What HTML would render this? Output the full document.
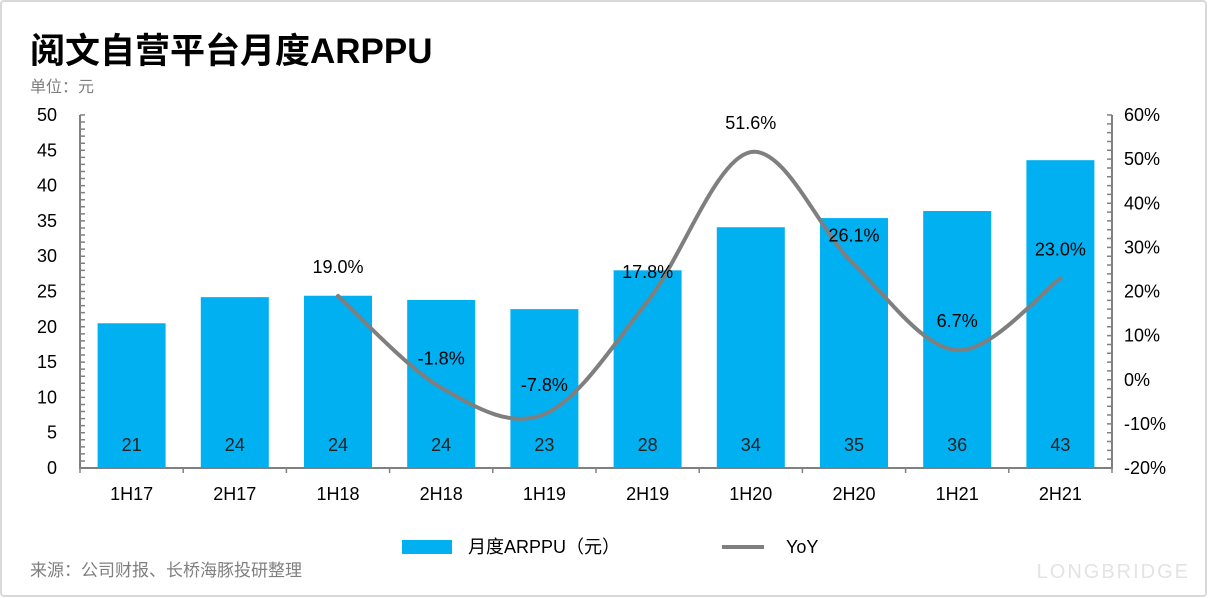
<!DOCTYPE html>
<html><head><meta charset="utf-8"><style>
body{margin:0;background:#fff}
#wrap{position:relative;width:1208px;height:598px;overflow:hidden;font-family:"Liberation Sans","Noto Sans CJK SC",sans-serif}
</style></head><body>
<div id="wrap">
<svg id="svg" width="1208" height="598">
<rect x="1" y="1" width="1205" height="595" rx="3" fill="#fff" stroke="#d9d9d9" stroke-width="2"/>
<text x="30" y="63" font-size="35" font-weight="bold" fill="#000" font-family="Liberation Sans,Noto Sans CJK SC,sans-serif">阅文自营平台月度ARPPU</text>
<text x="30" y="92" font-size="16" fill="#7f7f7f">单位：元</text>
<text x="30" y="576" font-size="17" fill="#7f7f7f">来源：公司财报、长桥海豚投研整理</text>
<text x="1190" y="578" font-size="20" fill="#e3e3e3" text-anchor="end" letter-spacing="2">LONGBRIDGE</text>
<g id="g"></g>
</svg>
</div>
<script>
const categories=["1H17","2H17","1H18","2H18","1H19","2H19","1H20","2H20","1H21","2H21"];
const arppu=[20.5,24.2,24.4,23.8,22.5,28.0,34.1,35.4,36.4,43.6];
const arppuLabels=["21","24","24","24","23","28","34","35","36","43"];
const yoy=[null,null,19.0,-1.8,-7.8,17.8,51.6,26.1,6.7,23.0];
const leftTicks=[0,5,10,15,20,25,30,35,40,45,50];
const rightTicks=[-20,-10,0,10,20,30,40,50,60];
const NS="http://www.w3.org/2000/svg";
const g=document.getElementById('g');
const X0=80,X1=1112,Y0=468,Y1=115;
const band=(X1-X0)/categories.length;
const xC=i=>X0+band*(i+0.5);
const yL=v=>Y0-(v/50)*(Y0-Y1);
const yR=v=>Y0-((v+20)/80)*(Y0-Y1);
function el(t,a,txt){const e=document.createElementNS(NS,t);for(const k in a)e.setAttribute(k,a[k]);if(txt!=null)e.textContent=txt;g.appendChild(e);return e;}
arppu.forEach((v,i)=>{
 const b=el('rect',{x:xC(i)-34,y:yL(v),width:68,height:Y0-yL(v),fill:'#00b0f0'});
 
 
 const t=el('text',{x:xC(i),y:451,'font-size':18,'text-anchor':'middle',fill:'#222'},arppuLabels[i]);
 
 
 const c=el('text',{x:xC(i),y:500,'font-size':18,'text-anchor':'middle',fill:'#000'},categories[i]);
 
 
});
let ax=el('path',{d:`M${X0} ${Y1}V${Y0}H${X1}V${Y1}`,stroke:'#808080','stroke-width':2,fill:'none'});


let tk='';
for(let v=0;v<=50;v++){tk+=`M${X0} ${yL(v)}h5`;}
for(let v=-20;v<=60;v+=2){tk+=`M${X1} ${yR(v)}h-5`;}
for(let i=0;i<=categories.length;i++){tk+=`M${X0+band*i} ${Y0}v5`;}
let tp=el('path',{d:tk,stroke:'#808080','stroke-width':1.5,fill:'none'});


leftTicks.forEach(v=>{const t=el('text',{x:57,y:yL(v)+6,'font-size':18,'text-anchor':'end',fill:'#000'},String(v));
 
 });
rightTicks.forEach(v=>{const t=el('text',{x:1124,y:yR(v)+6,'font-size':18,fill:'#000'},v+'%');
 
 });
const pts=[];yoy.forEach((v,i)=>{if(v!=null)pts.push([xC(i),yR(v),v]);});
let d=`M${pts[0][0]} ${pts[0][1]}`;
for(let i=0;i<pts.length-1;i++){
 const p0=pts[Math.max(0,i-1)],p1=pts[i],p2=pts[i+1],p3=pts[Math.min(pts.length-1,i+2)];
 const k=1/6;
 d+=` C${p1[0]+(p2[0]-p0[0])*k} ${p1[1]+(p2[1]-p0[1])*k} ${p2[0]-(p3[0]-p1[0])*k} ${p2[1]-(p3[1]-p1[1])*k} ${p2[0]} ${p2[1]}`;
}
const ln=el('path',{d:d,stroke:'#7f7f7f','stroke-width':4,fill:'none','stroke-linecap':'round'});


pts.forEach(p=>{const t=el('text',{x:p[0],y:p[1]-23,'font-size':18,'text-anchor':'middle',fill:'#000'},p[2].toFixed(1)+'%');
 
 });
let lr=el('rect',{x:402,y:540,width:50,height:14,fill:'#00b0f0'});


let lt=el('text',{x:468,y:553,'font-size':18,fill:'#000'},'月度ARPPU（元）');


let ll=el('line',{x1:722,y1:547,x2:764,y2:547,stroke:'#7f7f7f','stroke-width':4});


let lt2=el('text',{x:786,y:553,'font-size':18,fill:'#000'},'YoY');


</script>
</body></html>
